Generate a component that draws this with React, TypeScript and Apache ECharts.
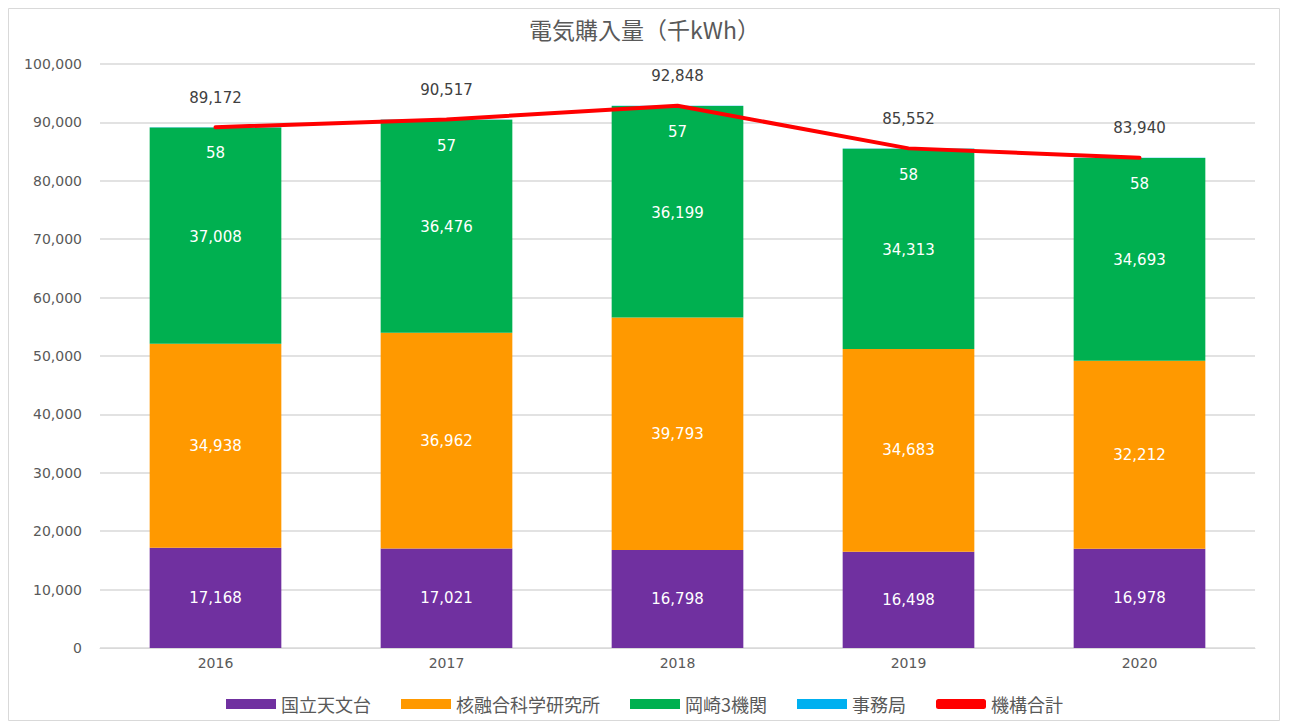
import React, { useEffect, useRef } from "react";
import * as echarts from "echarts";

const years = ["2016", "2017", "2018", "2019", "2020"];
const naoj = [17168, 17021, 16798, 16498, 16978];
const nifs = [34938, 36962, 39793, 34683, 32212];
const okazaki = [37008, 36476, 36199, 34313, 34693];
const office = [58, 57, 57, 58, 58];
const total = [89172, 90517, 92848, 85552, 83940];

const FONT = "'Noto Sans CJK JP', 'Noto Sans', sans-serif";
const NUM = "'DejaVu Sans', sans-serif";

export default function App() {
  const ref = useRef<HTMLDivElement>(null);
  useEffect(() => {
    const chart = echarts.init(ref.current!, null, { renderer: "svg" });
    const fmt = (v: number) => v.toLocaleString("en-US");
    const barLabel = {
      show: true,
      position: "inside" as const,
      color: "#ffffff",
      fontSize: 15,
      fontFamily: NUM,
      formatter: (p: any) => fmt(p.value),
    };
    chart.setOption({
      animation: false,
      textStyle: { fontFamily: FONT },
      title: {
        text: "電気購入量（千kWh）",
        left: "center",
        top: 4,
        textStyle: { fontSize: 23, fontWeight: "normal", color: "#595959", fontFamily: FONT },
      },
      graphic: [
        {
          type: "rect",
          shape: { x: 0.5, y: 0.5, width: 1271, height: 712 },
          style: { fill: "none", stroke: "#d9d9d9", lineWidth: 1 },
          silent: true,
        },
      ],
      legend: {
        bottom: 4,
        left: "center",
        itemWidth: 50,
        itemHeight: 10,
        itemGap: 30,
        textStyle: { fontSize: 18, color: "#595959", fontFamily: FONT },
        data: [
          { name: "国立天文台", icon: "rect" },
          { name: "核融合科学研究所", icon: "rect" },
          { name: "岡崎3機関", icon: "rect" },
          { name: "事務局", icon: "rect" },
          { name: "機構合計", icon: "roundRect" },
        ],
      },
      grid: { left: 92, right: 26, top: 56, bottom: 74 },
      xAxis: {
        type: "category",
        data: years,
        axisTick: { show: false },
        axisLine: { lineStyle: { color: "#d9d9d9" } },
        axisLabel: { color: "#595959", fontSize: 14, margin: 8, fontFamily: NUM },
      },
      yAxis: {
        type: "value",
        min: 0,
        max: 100000,
        interval: 10000,
        axisLine: { show: false },
        axisTick: { show: false },
        splitLine: { lineStyle: { color: "#d9d9d9", width: 1.5 } },
        axisLabel: {
          color: "#595959",
          fontSize: 14,
          margin: 18,
          fontFamily: NUM,
          formatter: (v: number) => fmt(v),
        },
      },
      series: [
        {
          name: "国立天文台",
          type: "bar",
          stack: "s",
          barWidth: "57%",
          data: naoj,
          itemStyle: { color: "#7030A0" },
          label: barLabel,
        },
        {
          name: "核融合科学研究所",
          type: "bar",
          stack: "s",
          data: nifs,
          itemStyle: { color: "#FF9900" },
          label: barLabel,
        },
        {
          name: "岡崎3機関",
          type: "bar",
          stack: "s",
          data: okazaki,
          itemStyle: { color: "#00B050" },
          label: { ...barLabel, offset: [0, 1] },
        },
        {
          name: "事務局",
          type: "bar",
          stack: "s",
          data: office,
          itemStyle: { color: "#00B0F0" },
          label: { ...barLabel, offset: [0, 26] },
        },
        {
          name: "機構合計",
          type: "line",
          data: total,
          symbol: "circle",
          symbolSize: 0,
          showSymbol: true,
          lineStyle: { color: "#FF0000", width: 4, cap: "round" },
          itemStyle: { color: "#FF0000" },
          label: {
            show: true,
            position: "top",
            distance: 22,
            color: "#404040",
            fontSize: 15,
            fontFamily: NUM,
            formatter: (p: any) => fmt(p.value),
          },
          z: 5,
        },
      ],
    });
    return () => chart.dispose();
  }, []);
  return <div ref={ref} style={{ width: 1273, height: 714 }} />;
}
